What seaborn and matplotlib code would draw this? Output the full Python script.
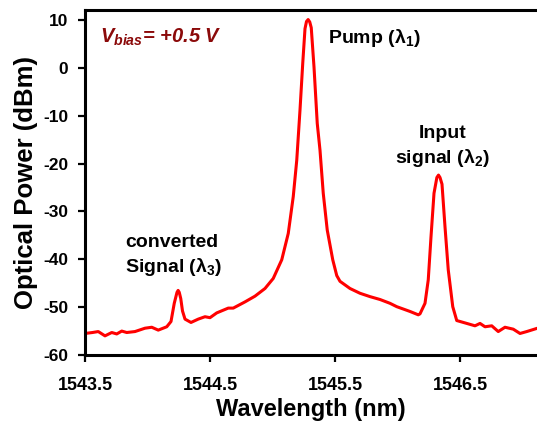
import matplotlib
matplotlib.use("Agg")
import matplotlib.pyplot as plt
import seaborn as sns
import pandas as pd

# spectrum (nm, dBm)
wavelength = [
    1543.500, 1543.560, 1543.606, 1543.660, 1543.714, 1543.754, 1543.794, 1543.834,
    1543.900, 1543.980, 1544.034, 1544.086, 1544.154, 1544.188, 1544.214, 1544.236,
    1544.245, 1544.254, 1544.266, 1544.280, 1544.300, 1544.348, 1544.406, 1544.460,
    1544.500, 1544.554, 1544.646, 1544.686, 1544.780, 1544.860, 1544.940, 1545.006,
    1545.074, 1545.126, 1545.166, 1545.194, 1545.220, 1545.242, 1545.260, 1545.272,
    1545.285, 1545.298, 1545.310, 1545.332, 1545.358, 1545.380, 1545.406, 1545.438,
    1545.482, 1545.514, 1545.540, 1545.620, 1545.700, 1545.780, 1545.860, 1545.940,
    1545.994, 1546.100, 1546.166, 1546.180, 1546.220, 1546.246, 1546.268, 1546.292,
    1546.315, 1546.328, 1546.340, 1546.356, 1546.380, 1546.406, 1546.442, 1546.474,
    1546.554, 1546.620, 1546.660, 1546.700, 1546.754, 1546.806, 1546.860, 1546.926,
    1546.980, 1547.034, 1547.120,
]
power_dbm = [
    -55.5, -55.3, -55.1, -56.0, -55.3, -55.6, -55.0, -55.3,
    -55.1, -54.4, -54.2, -54.8, -54.1, -53.0, -49.2, -46.9,
    -46.5, -46.9, -48.2, -50.8, -52.5, -53.2, -52.5, -52.0,
    -52.2, -51.2, -50.2, -50.2, -48.9, -47.7, -46.1, -44.0,
    -40.1, -34.6, -26.9, -19.3, -8.8, 1.0, 8.2, 9.7,
    10.1, 9.6, 8.4, 0.2, -11.6, -17.2, -26.2, -33.9,
    -40.1, -43.4, -44.6, -46.1, -47.1, -47.8, -48.4, -49.2,
    -49.9, -50.9, -51.6, -51.4, -49.2, -44.3, -35.3, -26.2,
    -22.9, -22.4, -22.9, -24.3, -33.2, -42.2, -49.9, -52.8,
    -53.4, -53.9, -53.4, -54.1, -53.9, -55.1, -54.2, -54.6,
    -55.5, -55.1, -54.4,
]
x_ticks = [1543.5, 1544.5, 1545.5, 1546.5]
y_ticks = [-60, -50, -40, -30, -20, -10, 0, 10]

df = pd.DataFrame({"wl": wavelength, "p": power_dbm})

sns.set_style("ticks")
plt.rcParams["font.family"] = ["Liberation Sans", "DejaVu Sans"]
plt.rcParams["font.weight"] = "bold"
plt.rcParams["axes.unicode_minus"] = False
plt.rcParams["mathtext.fontset"] = "custom"
plt.rcParams["mathtext.rm"] = "Liberation Sans:bold"
plt.rcParams["mathtext.it"] = "Liberation Sans:bold:italic"
for key in ["text.color", "axes.labelcolor", "xtick.color", "ytick.color", "axes.edgecolor"]:
    plt.rcParams[key] = "black"

fig = plt.figure(figsize=(5.37, 4.21), dpi=100)
ax = fig.add_axes([85 / 537, 66 / 421, 452 / 537, 345 / 421])

sns.lineplot(data=df, x="wl", y="p", color="#ff0000", linewidth=2.2, ax=ax,
             sort=False, estimator=None)
ax.lines[0].set_solid_joinstyle("round")
ax.lines[0].set_solid_capstyle("round")

ax.set_xlim(1543.5, 1547.116)
ax.set_ylim(-60, 12.1)
ax.set_xticks(x_ticks)
ax.set_xticklabels([f"{t:.1f}" for t in x_ticks])
ax.set_yticks(y_ticks)
ax.tick_params(axis="x", direction="out", length=5, width=1.6, pad=11, labelsize=13)
ax.tick_params(axis="y", direction="out", length=5, width=1.6, pad=7, labelsize=12.5)
for side in ["left", "bottom", "top"]:
    ax.spines[side].set_linewidth(2.2)
ax.spines["right"].set_visible(False)

ax.set_xlabel("Wavelength (nm)", fontsize=17, fontweight="bold", labelpad=3)
ax.set_ylabel("Optical Power (dBm)", fontsize=18.5, fontweight="bold", labelpad=4)

# labels on the plot
ax.text(1543.62, 5.2, r"$V_{bias}$= +0.5 V", color="#8b0a0a", fontsize=14.5,
        fontweight="bold", fontstyle="italic", va="baseline", ha="left")
ax.text(1545.445, 5.1, r"Pump ($\mathrm{\lambda_1}$)", fontsize=14,
        fontweight="bold", va="baseline", ha="left")
ax.text(1546.36, -12.0, "Input\n" + r"signal ($\mathrm{\lambda_2}$)", fontsize=14,
        fontweight="bold", va="top", ha="center", multialignment="center",
        linespacing=1.3)
ax.text(1544.21, -34.7, "converted\n" + r"Signal ($\mathrm{\lambda_3}$)", fontsize=14,
        fontweight="bold", va="top", ha="center", multialignment="left",
        linespacing=1.3)

fig.savefig("out.png", dpi=100)
